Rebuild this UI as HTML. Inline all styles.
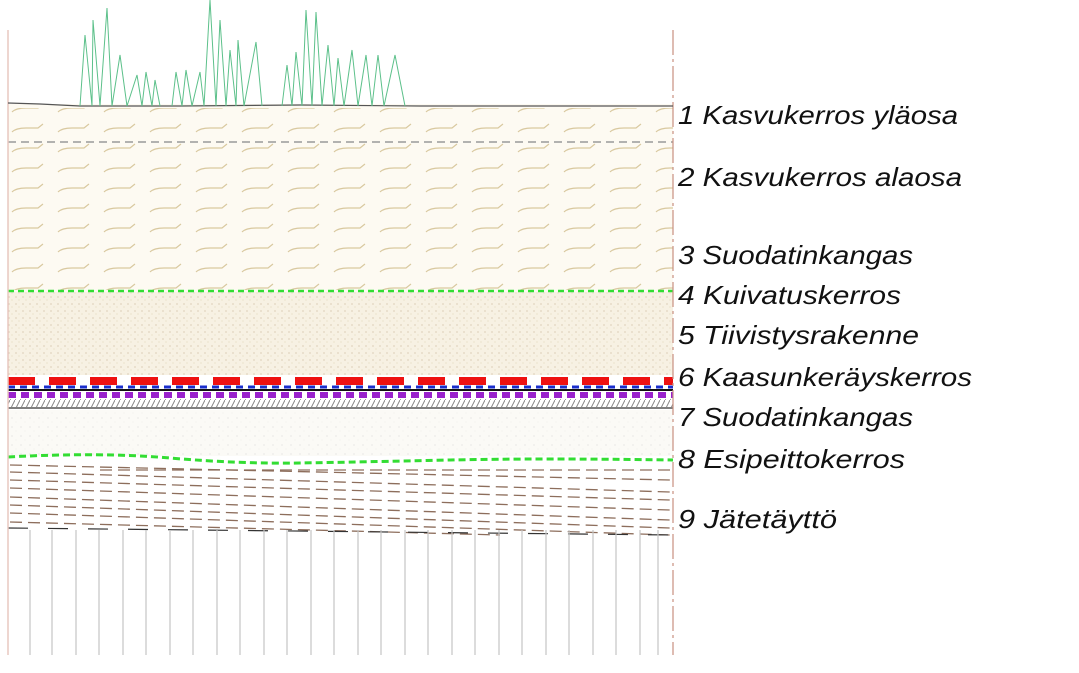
<!DOCTYPE html>
<html><head><meta charset="utf-8"><style>
body{margin:0;background:#fff;width:1079px;height:673px;overflow:hidden;font-family:"Liberation Sans",sans-serif}
svg{position:absolute;left:0;top:0}
</style></head><body>
<svg width="1079" height="673" viewBox="0 0 1079 673">
<defs>
<pattern id="dash" x="8" y="0" width="46" height="20" patternUnits="userSpaceOnUse">
<path d="M4 12 Q8 8 18 8 L30 8 L35 4" fill="none" stroke="#d9c9a0" stroke-width="1.2"/>
</pattern>
<pattern id="speck" width="7" height="7" patternUnits="userSpaceOnUse">
<rect width="7" height="7" fill="#f7f1e3"/><circle cx="2" cy="3" r="0.6" fill="#c9b89a"/><circle cx="5" cy="6" r="0.5" fill="#d8c9a8"/>
</pattern>
<pattern id="speck2" width="9" height="9" patternUnits="userSpaceOnUse">
<rect width="9" height="9" fill="#fbfaf6"/><circle cx="3" cy="4" r="0.5" fill="#ccc"/><circle cx="7" cy="8" r="0.4" fill="#ddd"/>
</pattern>
<pattern id="hatch" width="5" height="10" patternUnits="userSpaceOnUse">
<path d="M0 10 L5 0" stroke="#888" stroke-width="1"/>
</pattern>
</defs>
<rect x="8" y="104" width="665" height="188" fill="#fdfaf2"/>
<rect x="8" y="108" width="665" height="182" fill="url(#dash)"/>
<line x1="8" y1="142" x2="673" y2="142" stroke="#999" stroke-width="1.5" stroke-dasharray="8,5"/>
<rect x="8" y="292" width="665" height="83" fill="url(#speck)"/>
<line x1="8" y1="291" x2="673" y2="291" stroke="#33dd33" stroke-width="2.5" stroke-dasharray="6,4"/>
<line x1="8" y1="381" x2="673" y2="381" stroke="#ee1111" stroke-width="8" stroke-dasharray="27,14"/>
<line x1="8" y1="387" x2="673" y2="387" stroke="#1a2dcc" stroke-width="3" stroke-dasharray="7,5"/>
<line x1="8" y1="390" x2="673" y2="390" stroke="#111" stroke-width="2"/>
<line x1="8" y1="395" x2="673" y2="395" stroke="#9922cc" stroke-width="6" stroke-dasharray="8,5"/>
<rect x="8" y="399" width="665" height="8" fill="url(#hatch)"/>
<line x1="8" y1="408" x2="673" y2="408" stroke="#555" stroke-width="1.5"/>
<rect x="8" y="410" width="665" height="46" fill="url(#speck2)"/>
<path d="M8 457 Q100 452 170 458 T300 463 T450 460 T673 460" fill="none" stroke="#33dd33" stroke-width="3" stroke-dasharray="7,4"/>
<g stroke="#7a5540" stroke-width="1.3" stroke-dasharray="12,6" opacity="0.85">
<path d="M10 465 L670 480"/><path d="M10 472 L670 492"/><path d="M10 480 L670 500"/><path d="M10 488 L670 510"/><path d="M10 497 L670 520"/><path d="M10 505 L670 528"/><path d="M10 513 L670 535"/><path d="M10 522 L500 535"/><path d="M100 470 L670 470"/>
</g>
<path d="M8 528 L673 535" stroke="#333" stroke-width="1.2" stroke-dasharray="20,20"/>
<g stroke="#c4c4c4" stroke-width="1.2">
<path d="M30 530V655M52 530V655M76 530V655M99 530V655M123 530V655M146 530V655M170 530V655M193 530V655M217 530V655M240 530V655M264 530V655M287 530V655M311 530V655M334 530V655M358 530V655M381 530V655M405 530V655M428 530V655M452 530V655M475 530V655M499 530V655M522 530V655M546 530V655M569 530V655M593 530V655M616 530V655M640 530V655M658 530V655"/>
</g>
<line x1="8" y1="30" x2="8" y2="655" stroke="#e8c8c0" stroke-width="1.5"/>
<line x1="673" y1="30" x2="673" y2="655" stroke="#c89080" stroke-width="1.2" stroke-dasharray="25,4,3,4"/>
<path d="M8 103 L40 104 L80 106 L180 106 L300 105 L420 106 L673 106" fill="none" stroke="#555" stroke-width="1.2"/>
<g fill="none" stroke="#5cc08a" stroke-width="1">
<path d="M80 106 L85 35 L92 106 L93 20 L100 106 L107 8 L112 106 L120 55 L127 106 L137 75 L142 106 L146 72 L152 106 L155 80 L160 106 M172 106 L176 72 L182 106 L186 70 L192 106 L200 72 L204 106 L210 0 L216 106 L220 20 L226 106 L230 50 L236 106 L238 40 L244 106 L256 42 L262 106 M282 106 L287 65 L292 106 L296 52 L302 106 L306 10 L312 106 L316 12 L322 106 L328 45 L334 106 L338 58 L344 106 L352 50 L358 106 L366 55 L372 106 L378 55 L384 106 L395 55 L405 106"/>
</g>
<g font-family="Liberation Sans, sans-serif" font-style="italic" font-size="26" fill="#111" lengthAdjust="spacingAndGlyphs">
<text x="678" y="124" textLength="280" lengthAdjust="spacingAndGlyphs">1 Kasvukerros yläosa</text>
<text x="678" y="186" textLength="284" lengthAdjust="spacingAndGlyphs">2 Kasvukerros alaosa</text>
<text x="678" y="264" textLength="235" lengthAdjust="spacingAndGlyphs">3 Suodatinkangas</text>
<text x="678" y="304" textLength="223" lengthAdjust="spacingAndGlyphs">4 Kuivatuskerros</text>
<text x="678" y="344" textLength="241" lengthAdjust="spacingAndGlyphs">5 Tiivistysrakenne</text>
<text x="678" y="386" textLength="294" lengthAdjust="spacingAndGlyphs">6 Kaasunkeräyskerros</text>
<text x="678" y="426" textLength="235" lengthAdjust="spacingAndGlyphs">7 Suodatinkangas</text>
<text x="678" y="468" textLength="227" lengthAdjust="spacingAndGlyphs">8 Esipeittokerros</text>
<text x="678" y="528" textLength="159" lengthAdjust="spacingAndGlyphs">9 Jätetäyttö</text>
</g>
</svg>
</body></html>
